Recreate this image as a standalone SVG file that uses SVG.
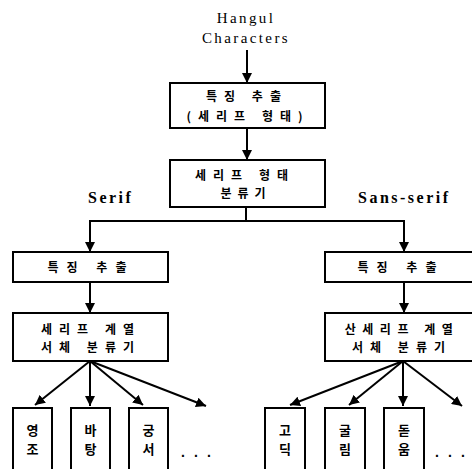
<svg xmlns="http://www.w3.org/2000/svg" width="472" height="469" viewBox="0 0 472 469">
<defs>
<marker id="ah" viewBox="0 0 10 10" refX="10" refY="5" markerWidth="10" markerHeight="10" markerUnits="userSpaceOnUse" orient="auto">
<path d="M0,0 L10,5 L0,10 z" fill="#000"/>
</marker>
<style>
.box{fill:#fff;stroke:#000;stroke-width:2}
.ko{font-family:"Noto Sans CJK KR","Noto Sans",sans-serif;font-size:12px;font-weight:bold;fill:#000;text-anchor:middle}
.lf{font-size:13px}
.en{font-family:"Liberation Serif","Times New Roman",serif;font-size:15px;fill:#000;text-anchor:middle;letter-spacing:2.4px}
.lab{font-family:"Liberation Serif","Times New Roman",serif;font-size:16px;font-weight:bold;fill:#000;letter-spacing:2.5px}
.dots{font-family:"Liberation Sans",Arial,sans-serif;font-size:14px;font-weight:bold;fill:#000;letter-spacing:2.6px}
.c{fill:none;stroke:#000;stroke-width:2}
.a{fill:none;stroke:#000;stroke-width:2;marker-end:url(#ah)}
</style>
</defs>
<rect width="472" height="469" fill="#fff"/>

<g id="input">
<text class="en" x="246" y="23">Hangul</text>
<text class="en" x="246" y="43">Characters</text>
</g>

<g id="connectors">
<line class="a" x1="247" y1="50" x2="247" y2="83"/>
<line class="a" x1="247" y1="128" x2="247" y2="160"/>
<polyline class="c" points="246,207 246,221"/>
<polyline class="c" points="90,222 90,221 404,221 404,222"/>
<line class="a" x1="90" y1="221" x2="90" y2="252"/>
<line class="a" x1="404" y1="221" x2="404" y2="252"/>
<line class="a" x1="90" y1="282" x2="90" y2="313"/>
<line class="a" x1="404" y1="282" x2="404" y2="313"/>
<line class="a" x1="90" y1="361" x2="35" y2="405"/>
<line class="a" x1="90" y1="361" x2="90" y2="406"/>
<line class="a" x1="90" y1="361" x2="143" y2="405"/>
<line class="a" x1="90" y1="361" x2="206" y2="406"/>
<line class="a" x1="403" y1="361" x2="290" y2="405"/>
<line class="a" x1="403" y1="361" x2="349" y2="405"/>
<line class="a" x1="403" y1="361" x2="403" y2="406"/>
<line class="a" x1="403" y1="361" x2="462" y2="406"/>
</g>

<g id="feat1">
<rect class="box" x="170" y="83" width="155" height="45"/>
<text class="ko" x="247" y="101" letter-spacing="7">특징 추출</text>
<text class="ko" x="248" y="121" letter-spacing="7">(세리프 형태)</text>
</g>

<g id="cls1">
<rect class="box" x="170" y="160" width="155" height="47"/>
<text class="ko" x="245" y="180" letter-spacing="7">세리프 형태</text>
<text class="ko" x="246" y="198" letter-spacing="6">분류기</text>
</g>

<g id="labels">
<text class="lab" x="88" y="203">Serif</text>
<text class="lab" x="358" y="203">Sans-serif</text>
</g>

<g id="featL">
<rect class="box" x="13" y="252" width="155" height="30"/>
<text class="ko" x="91" y="272" letter-spacing="8">특징 추출</text>
</g>

<g id="featR">
<rect class="box" x="325" y="252" width="157" height="30"/>
<text class="ko" x="401" y="272" letter-spacing="8">특징 추출</text>
</g>

<g id="clsL">
<rect class="box" x="13" y="313" width="155" height="48"/>
<text class="ko" x="91" y="334" letter-spacing="7">세리프 계열</text>
<text class="ko" x="91" y="352" letter-spacing="7">서체 분류기</text>
</g>

<g id="clsR">
<rect class="box" x="325" y="313" width="157" height="48"/>
<text class="ko" x="402" y="334" letter-spacing="6.5">산세리프 계열</text>
<text class="ko" x="402" y="352" letter-spacing="7">서체 분류기</text>
</g>

<g id="leafL1"><rect class="box" x="13" y="408" width="39" height="70"/><text class="ko lf" x="32.5" y="435">영</text><text class="ko lf" x="32.5" y="454">조</text></g>
<g id="leafL2"><rect class="box" x="71" y="408" width="39" height="70"/><text class="ko lf" x="90.5" y="435">바</text><text class="ko lf" x="90.5" y="454">탕</text></g>
<g id="leafL3"><rect class="box" x="129" y="408" width="39" height="70"/><text class="ko lf" x="148.5" y="435">궁</text><text class="ko lf" x="148.5" y="454">서</text></g>
<g id="dotsL"><text class="dots" x="181" y="457">. . .</text></g>

<g id="leafR1"><rect class="box" x="265" y="408" width="40" height="70"/><text class="ko lf" x="285" y="435">고</text><text class="ko lf" x="285" y="454">딕</text></g>
<g id="leafR2"><rect class="box" x="325" y="408" width="40" height="70"/><text class="ko lf" x="345" y="435">굴</text><text class="ko lf" x="345" y="454">림</text></g>
<g id="leafR3"><rect class="box" x="384" y="408" width="40" height="70"/><text class="ko lf" x="404" y="435">돋</text><text class="ko lf" x="404" y="454">움</text></g>
<g id="dotsR"><text class="dots" x="435" y="457">. . .</text></g>
</svg>
